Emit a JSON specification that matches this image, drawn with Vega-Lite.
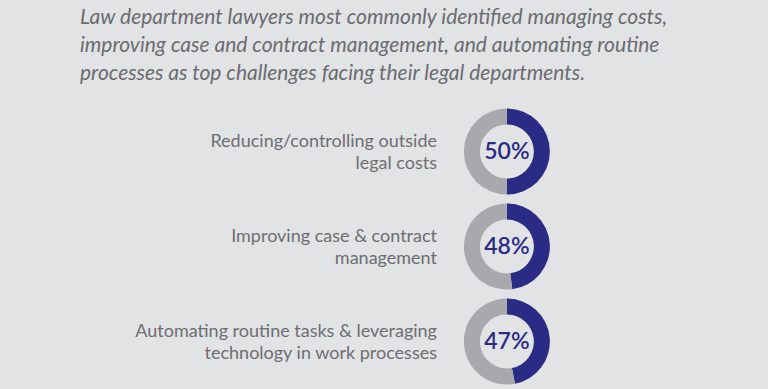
{
  "$schema": "https://vega.github.io/schema/vega-lite/v6.json",
  "width": 768,
  "height": 389,
  "autosize": {"type": "fit", "contains": "padding"},
  "padding": {"top": 7, "left": 0, "right": 0, "bottom": 0},
  "background": "#e2e3e5",
  "config": {"view": {"stroke": null}},
  "title": {
    "text": [
      "Law department lawyers most commonly identified managing costs,",
      "improving case and contract management, and automating routine",
      "processes as top challenges facing their legal departments."
    ],
    "anchor": "start",
    "dx": 80,
    "font": "Lato",
    "fontStyle": "italic",
    "fontWeight": "normal",
    "fontSize": 21,
    "lineHeight": 28,
    "color": "#6b6c70",
    "offset": 20
  },
  "datasets": {
    "items": [
      {"item": "Reducing/controlling outside legal costs", "label": "Reducing/controlling outside\nlegal costs", "pct": "50%"},
      {"item": "Improving case & contract management", "label": "Improving case & contract\nmanagement", "pct": "48%"},
      {"item": "Automating routine tasks & leveraging technology in work processes", "label": "Automating routine tasks & leveraging\ntechnology in work processes", "pct": "47%"}
    ],
    "segments": [
      {"item": "Reducing/controlling outside legal costs", "part": "a", "value": 50},
      {"item": "Reducing/controlling outside legal costs", "part": "b", "value": 50},
      {"item": "Improving case & contract management", "part": "a", "value": 48},
      {"item": "Improving case & contract management", "part": "b", "value": 52},
      {"item": "Automating routine tasks & leveraging technology in work processes", "part": "a", "value": 47},
      {"item": "Automating routine tasks & leveraging technology in work processes", "part": "b", "value": 53}
    ]
  },
  "layer": [
    {
      "data": {"name": "segments"},
      "transform": [
        {"stack": "value", "groupby": ["item"], "sort": [{"field": "part", "order": "ascending"}], "as": ["start", "end"]}
      ],
      "mark": {"type": "arc", "radius": 43, "radius2": 27},
      "encoding": {
        "x": {"datum": 66.0, "type": "quantitative", "scale": {"domain": [0, 100]}, "axis": null},
        "y": {"field": "item", "type": "nominal", "sort": null, "scale": {"type": "band", "paddingInner": 0, "paddingOuter": 0}, "axis": null},
        "theta": {"field": "start", "type": "quantitative", "scale": {"domain": [0, 100], "range": [0, 6.283185307179586]}},
        "theta2": {"field": "end"},
        "color": {"field": "part", "type": "nominal", "scale": {"domain": ["a", "b"], "range": ["#2b2a85", "#a7a9ac"]}, "legend": null}
      }
    },
    {
      "data": {"name": "items"},
      "mark": {"type": "text", "align": "center", "baseline": "middle", "font": "Lato", "fontSize": 23, "fontWeight": 600, "color": "#2b2a85"},
      "encoding": {
        "x": {"datum": 66.0, "type": "quantitative"},
        "y": {"field": "item", "type": "nominal", "sort": null},
        "text": {"field": "pct"}
      }
    },
    {
      "data": {"name": "items"},
      "mark": {"type": "text", "align": "right", "baseline": "alphabetic", "dy": -5, "font": "Lato", "fontSize": 18, "lineBreak": "\n", "lineHeight": 22, "color": "#6d6e71"},
      "encoding": {
        "x": {"datum": 56.9, "type": "quantitative"},
        "y": {"field": "item", "type": "nominal", "sort": null},
        "text": {"field": "label"}
      }
    }
  ]
}
